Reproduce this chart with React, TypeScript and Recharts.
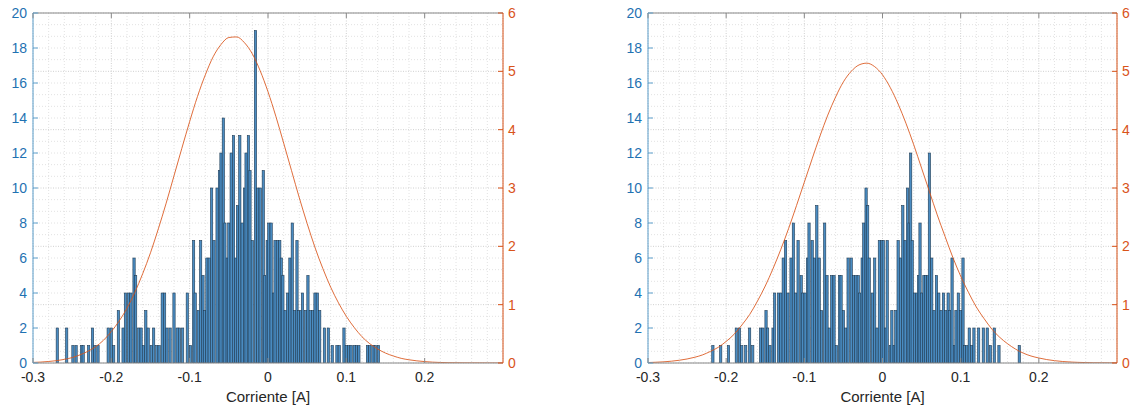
import React from 'react';
import { ComposedChart, Bar, Line, XAxis, YAxis, CartesianGrid } from 'recharts';

// ---------- tick values ----------
const X_TICKS = [-0.3, -0.2, -0.1, 0, 0.1, 0.2];
const X_MAJOR = [-0.3, -0.2, -0.1, 0, 0.1, 0.2, 0.3];
const X_MINOR = [-0.28, -0.26, -0.24, -0.22, -0.18, -0.16, -0.14, -0.12, -0.08, -0.06, -0.04, -0.02,
  0.02, 0.04, 0.06, 0.08, 0.12, 0.14, 0.16, 0.18, 0.22, 0.24, 0.26, 0.28];
const LEFT_TICKS = [0, 2, 4, 6, 8, 10, 12, 14, 16, 18, 20];
const RIGHT_TICKS = [0, 1, 2, 3, 4, 5, 6];
const RIGHT_MINOR = [0.2, 0.4, 0.6, 0.8, 1.2, 1.4, 1.6, 1.8, 2.2, 2.4, 2.6, 2.8, 3.2, 3.4, 3.6, 3.8,
  4.2, 4.4, 4.6, 4.8, 5.2, 5.4, 5.6, 5.8];

// ---------- left panel histogram ----------
const leftCenters = [
  -0.269, -0.257, -0.249, -0.245, -0.238, -0.236, -0.229, -0.224, -0.221, -0.217,
  -0.204, -0.2, -0.197, -0.191, -0.185, -0.182, -0.178, -0.175, -0.171, -0.169,
  -0.165, -0.162, -0.159, -0.156, -0.153, -0.149, -0.146, -0.142, -0.139, -0.135,
  -0.132, -0.129, -0.125, -0.12, -0.116, -0.113, -0.109, -0.103, -0.099, -0.095,
  -0.093, -0.089, -0.086, -0.083, -0.081, -0.078, -0.075, -0.072, -0.069, -0.065,
  -0.062, -0.06, -0.057, -0.055, -0.052, -0.05, -0.047, -0.044, -0.041, -0.039,
  -0.036, -0.033, -0.03, -0.028, -0.025, -0.023, -0.02, -0.016, -0.013, -0.01,
  -0.006, -0.004, -0.001, 0.001, 0.004, 0.007, 0.009, 0.012, 0.015, 0.017,
  0.019, 0.022, 0.025, 0.028, 0.031, 0.034, 0.037, 0.039, 0.042, 0.044,
  0.048, 0.051, 0.054, 0.057, 0.06, 0.063, 0.066, 0.072, 0.077, 0.082,
  0.088, 0.091, 0.097, 0.1, 0.103, 0.106, 0.11, 0.113, 0.116, 0.127,
  0.13, 0.134, 0.137, 0.141,
];
const leftCounts = [
  2, 2, 1, 1, 1, 1, 1, 2, 1, 1,
  2, 2, 1, 3, 2, 4, 4, 4, 6, 5,
  2, 2, 1, 3, 2, 1, 2, 1, 1, 4,
  4, 2, 2, 4, 2, 2, 2, 4, 1, 7,
  4, 3, 7, 5, 3, 6, 6, 10, 7, 10,
  11, 12, 14, 8, 6, 8, 12, 13, 6, 9,
  13, 8, 10, 12, 13, 11, 7, 19, 10, 10,
  11, 5, 7, 8, 8, 4, 7, 7, 7, 6,
  5, 3, 4, 6, 8, 3, 7, 3, 3, 4,
  3, 5, 3, 3, 4, 4, 3, 2, 2, 1,
  1, 1, 2, 1, 1, 1, 1, 1, 1, 1,
  1, 1, 1, 1,
];

// ---------- right panel histogram ----------
const rightCenters = [
  -0.217, -0.207, -0.197, -0.187, -0.183, -0.18, -0.175, -0.17, -0.166, -0.156,
  -0.153, -0.149, -0.147, -0.144, -0.14, -0.138, -0.133, -0.13, -0.127, -0.124,
  -0.121, -0.117, -0.114, -0.111, -0.108, -0.104, -0.102, -0.099, -0.096, -0.094,
  -0.09, -0.087, -0.084, -0.081, -0.078, -0.074, -0.071, -0.068, -0.065, -0.062,
  -0.059, -0.055, -0.053, -0.05, -0.047, -0.044, -0.04, -0.037, -0.034, -0.031,
  -0.029, -0.026, -0.024, -0.021, -0.019, -0.017, -0.013, -0.01, -0.007, -0.004,
  -0.001, 0.001, 0.004, 0.006, 0.01, 0.012, 0.015, 0.017, 0.02, 0.023,
  0.026, 0.029, 0.032, 0.034, 0.036, 0.038, 0.041, 0.044, 0.046, 0.048,
  0.05, 0.053, 0.055, 0.058, 0.06, 0.063, 0.066, 0.069, 0.072, 0.075,
  0.078, 0.081, 0.084, 0.086, 0.089, 0.092, 0.094, 0.097, 0.1, 0.103,
  0.105, 0.108, 0.111, 0.114, 0.117, 0.123, 0.129, 0.134, 0.138, 0.143,
  0.149, 0.175,
];
const rightCounts = [
  1, 1, 1, 2, 2, 1, 1, 2, 1, 2,
  2, 3, 2, 1, 2, 4, 4, 4, 6, 7,
  4, 6, 8, 4, 7, 5, 4, 4, 6, 8,
  7, 6, 9, 6, 3, 8, 5, 2, 5, 5,
  1, 5, 5, 3, 2, 6, 6, 5, 5, 5,
  4, 6, 8, 10, 9, 6, 4, 6, 2, 7,
  7, 7, 2, 7, 1, 3, 1, 3, 7, 6,
  9, 7, 10, 8, 12, 7, 4, 4, 5, 8,
  4, 5, 5, 5, 12, 6, 3, 5, 4, 3,
  4, 3, 4, 3, 6, 1, 3, 4, 3, 6,
  1, 1, 2, 1, 2, 2, 2, 2, 1, 2,
  1, 1,
];

// ---------- fitted density curves (right axis) ----------
const curveX = [
  -0.3, -0.29, -0.28, -0.27, -0.26, -0.25, -0.24, -0.23, -0.22, -0.21,
  -0.2, -0.19, -0.18, -0.17, -0.16, -0.15, -0.14, -0.13, -0.12, -0.11,
  -0.1, -0.09, -0.08, -0.07, -0.06, -0.05, -0.04, -0.03, -0.02, -0.01,
  0, 0.01, 0.02, 0.03, 0.04, 0.05, 0.06, 0.07, 0.08, 0.09,
  0.1, 0.11, 0.12, 0.13, 0.14, 0.15, 0.16, 0.17, 0.18, 0.19,
  0.2, 0.21, 0.22, 0.23, 0.24, 0.25, 0.26, 0.27, 0.28, 0.29, 0.3,
];
const leftPdf = [
  0.01, 0.016, 0.026, 0.04, 0.062, 0.093, 0.14, 0.2, 0.28, 0.39,
  0.54, 0.72, 0.94, 1.21, 1.53, 1.89, 2.3, 2.74, 3.21, 3.68,
  4.14, 4.57, 4.94, 5.25, 5.46, 5.58, 5.59, 5.49, 5.3, 5.01,
  4.65, 4.23, 3.77, 3.3, 2.83, 2.39, 1.98, 1.62, 1.3, 1.03,
  0.8, 0.61, 0.45, 0.33, 0.24, 0.17, 0.12, 0.08, 0.055, 0.037,
  0.024, 0.015, 0.009, 0.005, 0.003, 0.002, 0.001, 0.001, 0, 0, 0,
];
const rightPdf = [
  0.008, 0.013, 0.02, 0.031, 0.047, 0.069, 0.099, 0.14, 0.2, 0.27,
  0.37, 0.49, 0.65, 0.83, 1.06, 1.32, 1.62, 1.95, 2.31, 2.7,
  3.1, 3.5, 3.89, 4.25, 4.56, 4.82, 5.0, 5.11, 5.14, 5.08,
  4.94, 4.72, 4.44, 4.11, 3.74, 3.34, 2.94, 2.54, 2.17, 1.81,
  1.49, 1.21, 0.96, 0.76, 0.58, 0.44, 0.33, 0.24, 0.17, 0.12,
  0.086, 0.059, 0.04, 0.026, 0.017, 0.011, 0.007, 0.004, 0.003, 0.002, 0.001,
];

// ---------- styles ----------
const BLUE_TEXT = '#1f72b2';
const BLUE_AXIS = '#5c9fcc';
const ORANGE = '#D95319';
const GRAY_AXIS = '#8a8a8a';
const DARK_TEXT = '#262626';
const BAR_FILL = '#4a8cc2';
const BAR_EDGE = '#1e3a52';
const BAR_W = 2.3;
const FONT = '"Liberation Sans", Arial, Helvetica, sans-serif';

const LeftTick = (p: any) => (
  <g>
    <line x1={p.x + 6} x2={p.x + 11} y1={p.y} y2={p.y} stroke={BLUE_AXIS} strokeWidth={1} />
    <text x={p.x} y={p.y} dy="0.36em" textAnchor="end" fill={BLUE_TEXT} fontSize={14} fontFamily={FONT}>
      {p.payload.value}
    </text>
  </g>
);

const RightTick = (p: any) => (
  <g>
    <line x1={p.x - 5} x2={p.x - 10} y1={p.y} y2={p.y} stroke={ORANGE} strokeWidth={1} />
    <text x={p.x} y={p.y} dy="0.36em" textAnchor="start" fill={ORANGE} fontSize={14} fontFamily={FONT}>
      {p.payload.value}
    </text>
  </g>
);

const BottomTick = (p: any) => (
  <g>
    <line x1={p.x} x2={p.x} y1={p.y - 9} y2={p.y - 14} stroke={GRAY_AXIS} strokeWidth={1} />
    <text x={p.x} y={p.y} dy="0.71em" textAnchor="middle" fill={DARK_TEXT} fontSize={14} fontFamily={FONT}>
      {String(p.payload.value)}
    </text>
  </g>
);

const TopTick = (p: any) => (
  <line x1={p.x} x2={p.x} y1={p.y} y2={p.y + 5} stroke={GRAY_AXIS} strokeWidth={1} />
);

const HistBar = (p: any) => {
  if (p.height == null || !isFinite(p.height) || p.height <= 0) return null;
  const cx = p.x + p.width / 2;
  return (
    <rect
      x={cx - BAR_W / 2}
      y={p.y}
      width={BAR_W}
      height={p.height}
      fill={BAR_FILL}
      stroke={BAR_EDGE}
      strokeWidth={0.6}
    />
  );
};

type PanelProps = {
  centers: number[];
  counts: number[];
  pdf: number[];
  left: number;
  width: number;
  marginLeft: number;
  marginRight: number;
};

const Panel = ({ centers, counts, pdf, left, width, marginLeft, marginRight }: PanelProps) => {
  const rows = centers.map((c, i) => ({ x: c, count: counts[i] }));
  const curve = curveX.map((c, i) => ({ x: c, pdf: pdf[i] }));
  return (
    <div style={{ position: 'absolute', left, top: 0 }}>
      <ComposedChart
        width={width}
        height={407}
        data={rows}
        margin={{ top: 12, right: marginRight, bottom: 0, left: marginLeft }}
        style={{ fontFamily: FONT }}
      >
        <CartesianGrid
          yAxisId="right"
          verticalValues={X_MINOR}
          horizontalValues={RIGHT_MINOR}
          stroke="#e2e2e2"
          strokeDasharray="1 2"
        />
        <CartesianGrid
          yAxisId="right"
          verticalValues={X_MAJOR}
          horizontalValues={RIGHT_TICKS}
          stroke="#d0d0d0"
          strokeDasharray="1 1.5"
        />
        <XAxis
          dataKey="x"
          type="number"
          domain={[-0.3, 0.3]}
          ticks={X_TICKS}
          interval={0}
          allowDataOverflow
          height={44}
          tickSize={0}
          tickMargin={9}
          tickLine={false}
          axisLine={{ stroke: GRAY_AXIS }}
          tick={BottomTick}
          label={{ value: 'Corriente [A]', position: 'insideBottom', offset: 5, fill: DARK_TEXT, fontSize: 15 }}
        />
        <XAxis
          xAxisId="top"
          orientation="top"
          dataKey="x"
          type="number"
          domain={[-0.3, 0.3]}
          ticks={X_TICKS}
          interval={0}
          allowDataOverflow
          height={1}
          tickSize={0}
          tickMargin={0}
          tickLine={false}
          axisLine={{ stroke: GRAY_AXIS }}
          tick={TopTick}
        />
        <YAxis
          yAxisId="left"
          orientation="left"
          type="number"
          domain={[0, 20]}
          ticks={LEFT_TICKS}
          interval={0}
          allowDataOverflow
          width={33}
          tickSize={0}
          tickMargin={6}
          tickLine={false}
          axisLine={{ stroke: BLUE_AXIS }}
          tick={LeftTick}
        />
        <YAxis
          yAxisId="right"
          orientation="right"
          type="number"
          domain={[0, 6]}
          ticks={RIGHT_TICKS}
          interval={0}
          allowDataOverflow
          width={18}
          tickSize={0}
          tickMargin={5}
          tickLine={false}
          axisLine={{ stroke: ORANGE }}
          tick={RightTick}
        />
        <Bar
          yAxisId="left"
          dataKey="count"
          isAnimationActive={false}
          fill={BAR_FILL}
          shape={HistBar}
        />
        <Line
          yAxisId="right"
          data={curve}
          dataKey="pdf"
          type="monotone"
          stroke={ORANGE}
          strokeWidth={1}
          strokeOpacity={0.85}
          dot={false}
          activeDot={false}
          isAnimationActive={false}
        />
      </ComposedChart>
    </div>
  );
};

export default function App() {
  return (
    <div
      style={{
        position: 'absolute',
        left: 0,
        top: 0,
        width: 1135,
        height: 407,
        overflow: 'hidden',
        background: '#ffffff',
        fontFamily: FONT,
      }}
    >
      <Panel centers={leftCenters} counts={leftCounts} pdf={leftPdf} left={0} width={560} marginLeft={0} marginRight={39} />
      <Panel centers={rightCenters} counts={rightCounts} pdf={rightPdf} left={600} width={535} marginLeft={15} marginRight={0} />
    </div>
  );
}
